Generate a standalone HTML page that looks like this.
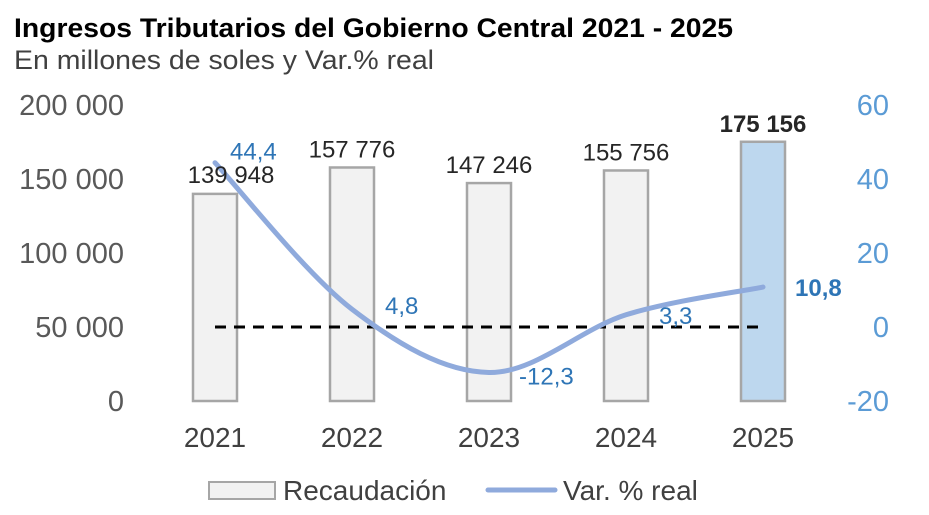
<!DOCTYPE html>
<html><head><meta charset="utf-8"><style>
body{margin:0;background:#fff;}
svg{display:block;font-family:"Liberation Sans",Arial,sans-serif;}
</style></head><body>
<svg id="chart" width="929" height="515" viewBox="0 0 929 515">
<text x="14" y="37" font-size="27" font-weight="bold" fill="#000" textLength="719" lengthAdjust="spacingAndGlyphs">Ingresos Tributarios del Gobierno Central 2021 - 2025</text>
<text x="14" y="69" font-size="27" fill="#404040" textLength="420" lengthAdjust="spacingAndGlyphs">En millones de soles y Var.% real</text>
<g id="axes"></g>
<g id="bars"></g>
<g id="line"></g>
<g id="labels"></g>
<g>
<rect x="209" y="482" width="66" height="17" fill="#f2f2f2" stroke="#a6a6a6" stroke-width="2"/>
<text x="283" y="500" font-size="28" fill="#404040">Recaudación</text>
<line x1="488" y1="490" x2="555" y2="490" stroke="#8faadc" stroke-width="5" stroke-linecap="round"/>
<text x="563" y="500" font-size="28" fill="#404040">Var. % real</text>
</g>
</svg>
<script>
const categories=["2021","2022","2023","2024","2025"];
const recaudacion=[139948,157776,147246,155756,175156];
const recaudacionLabels=["139 948","157 776","147 246","155 756","175 156"];
const varReal=[44.4,4.8,-12.3,3.3,10.8];
const varLabels=["44,4","4,8","-12,3","3,3","10,8"];
const leftTicks=[0,50000,100000,150000,200000];
const leftTickLabels=["0","50 000","100 000","150 000","200 000"];
const rightTicks=[-20,0,20,40,60];
const NS="http://www.w3.org/2000/svg";
const yL=v=>401-v*(296/200000);
const yR=v=>327-v*3.7;
const xC=i=>215+i*137;
function mk(tag,attrs,parent,text){const e=document.createElementNS(NS,tag);for(const k in attrs)e.setAttribute(k,attrs[k]);if(text!=null)e.textContent=text;document.getElementById(parent).appendChild(e);return e;}
leftTicks.forEach((t,i)=>{const e=mk("text",{x:124,y:yL(t)+10,"font-size":29,fill:"#595959","text-anchor":"end"},"axes",leftTickLabels[i]);

});
rightTicks.forEach(t=>{const e=mk("text",{x:889,y:yR(t)+10,"font-size":29,fill:"#5b9bd5","text-anchor":"end"},"axes",String(t));

});
categories.forEach((c,i)=>{const e=mk("text",{x:xC(i),y:447,"font-size":28,fill:"#404040","text-anchor":"middle"},"axes",c);

});
recaudacion.forEach((v,i)=>{const last=i===recaudacion.length-1;
const r=mk("rect",{x:xC(i)-22,y:yL(v),width:44,height:401-yL(v),fill:last?"#bdd7ee":"#f2f2f2",stroke:"#a6a6a6","stroke-width":2.5},"bars");


const off=i===0?16:0;
const t=mk("text",{x:xC(i)+off,y:yL(v)-(i===0?11:10),"font-size":24,fill:"#262626","text-anchor":"middle","font-weight":last?"bold":"normal"},"labels",recaudacionLabels[i]);

});
const ln=mk("line",{x1:xC(0),y1:yR(0),x2:xC(4),y2:yR(0),stroke:"#000","stroke-width":3,"stroke-dasharray":"11,8"},"line");


const pts=varReal.map((v,i)=>[xC(i),yR(v)]);
let d="M"+pts[0][0]+","+pts[0][1];
for(let i=0;i<pts.length-1;i++){const p0=pts[Math.max(0,i-1)],p1=pts[i],p2=pts[i+1],p3=pts[Math.min(pts.length-1,i+2)];const k=1/6;
d+=" C"+(p1[0]+(p2[0]-p0[0])*k)+","+(p1[1]+(p2[1]-p0[1])*k)+" "+(p2[0]-(p3[0]-p1[0])*k)+","+(p2[1]-(p3[1]-p1[1])*k)+" "+p2[0]+","+p2[1];}
const path=mk("path",{d:d,fill:"none",stroke:"#8faadc","stroke-width":5,"stroke-linecap":"round"},"line");


const lOff=[[15,-3],[33,5],[30,12],[33,9],[32,9]];
varReal.forEach((v,i)=>{const t=mk("text",{x:xC(i)+lOff[i][0],y:yR(v)+lOff[i][1],"font-size":24,fill:"#2e75b6","font-weight":i===4?"bold":"normal"},"labels",varLabels[i]);

});
</script>
</body></html>
